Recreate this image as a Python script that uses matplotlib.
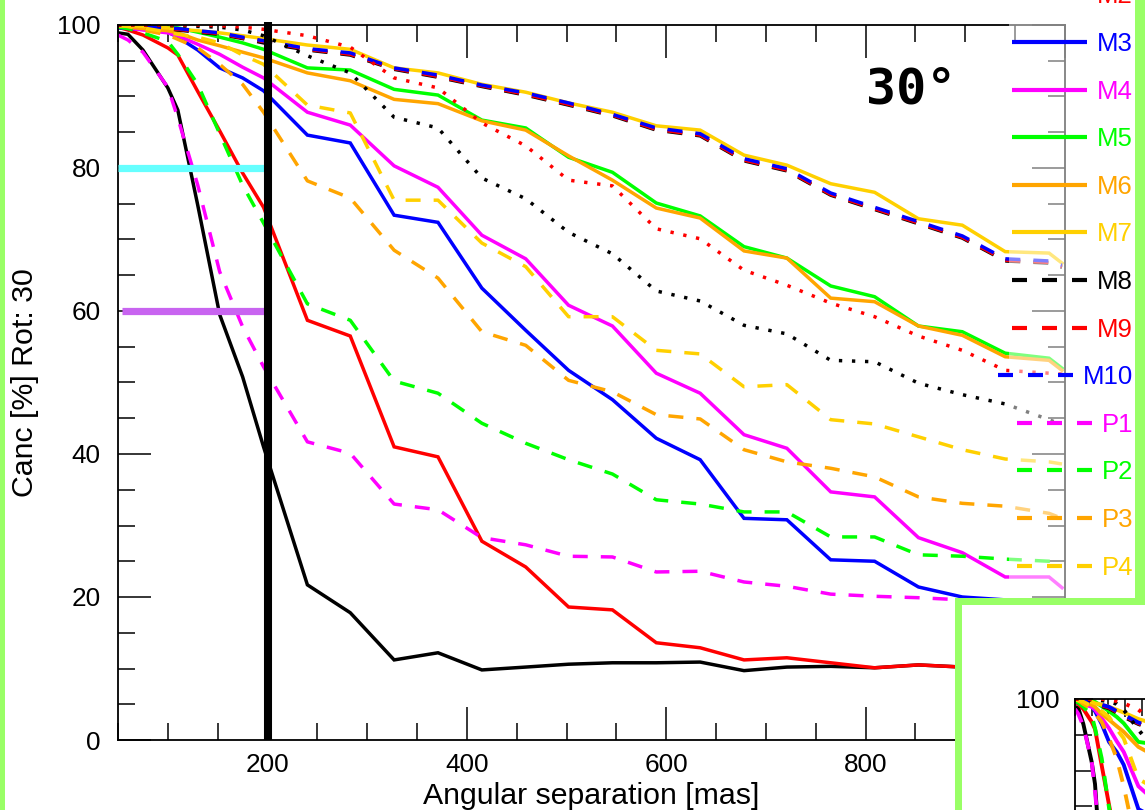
import matplotlib
matplotlib.use('Agg')
import matplotlib.pyplot as plt
from matplotlib.patches import Rectangle
from matplotlib.ticker import MultipleLocator

plt.rcParams['font.family'] = ['Liberation Sans', 'DejaVu Sans']
plt.rcParams['lines.scale_dashes'] = False

# ---------------- data ----------------
sep_mas = [50, 60, 75, 100, 110, 130, 152, 175, 196, 240, 283, 327, 371, 415, 459,
           502, 546, 590, 634, 678, 721, 765, 809, 853, 897, 940, 984, 997]

M1 = [98.9, 98.7, 96.5, 91.2, 88.1, 74.8, 59.5, 50.8, 41.0, 21.7, 17.8, 11.2, 12.2, 9.8,
      10.2, 10.6, 10.8, 10.8, 10.9, 9.7, 10.2, 10.3, 10.1, 10.5, 10.2, 10.2, 10.2, 10.2]
M2 = [99.7, 99.3, 98.6, 96.8, 95.8, 90.7, 85.2, 79.3, 74.5, 58.7, 56.5, 41.0, 39.6, 27.8,
      24.2, 18.6, 18.2, 13.6, 12.9, 11.2, 11.5, 10.8, 10.1, 10.5, 10.2, 10.3, 10.4, 10.3]
M3 = [99.6, 99.5, 99.4, 99.0, 98.3, 96.5, 94.0, 92.6, 90.8, 84.6, 83.5, 73.4, 72.4, 63.2,
      57.3, 51.7, 47.6, 42.2, 39.2, 31.0, 30.8, 25.2, 25.0, 21.4, 20.0, 19.6, 19.3, 19.0]
M4 = [99.7, 99.6, 99.3, 98.9, 98.5, 97.3, 95.9, 94.1, 92.6, 87.8, 86.0, 80.3, 77.3, 70.6,
      67.3, 60.8, 57.9, 51.3, 48.5, 42.7, 40.8, 34.7, 34.0, 28.3, 26.2, 22.8, 22.8, 21.3]
M5 = [99.8, 99.8, 99.8, 99.7, 99.6, 99.0, 98.3, 97.5, 96.6, 94.0, 93.7, 91.0, 90.2, 86.7,
      85.6, 81.5, 79.4, 75.1, 73.3, 69.0, 67.4, 63.5, 62.0, 57.9, 57.1, 54.1, 53.4, 52.0]
M6 = [99.8, 99.7, 99.5, 99.2, 98.9, 97.9, 97.1, 96.2, 95.4, 93.3, 92.2, 89.6, 89.0, 86.6,
      85.3, 81.7, 78.3, 74.4, 73.0, 68.4, 67.4, 61.8, 61.3, 57.9, 56.6, 53.6, 53.1, 51.7]
M7 = [99.9, 99.9, 99.8, 99.6, 99.4, 99.2, 98.9, 98.5, 98.1, 97.2, 96.6, 94.0, 93.3, 91.7,
      90.6, 89.1, 87.8, 85.9, 85.3, 81.8, 80.4, 77.8, 76.6, 72.9, 72.0, 68.3, 68.1, 66.7]
M8 = [99.8, 99.8, 99.7, 99.5, 99.3, 99.0, 98.7, 98.1, 97.5, 96.5, 95.8, 93.8, 92.7, 91.4,
      90.2, 88.8, 87.3, 85.3, 84.5, 81.0, 79.6, 76.2, 74.2, 72.2, 70.2, 67.0, 66.7, 66.1]
M9 = [99.9, 99.8, 99.7, 99.5, 99.4, 99.1, 98.8, 98.2, 97.7, 96.6, 95.9, 93.9, 92.8, 91.5,
      90.3, 88.9, 87.4, 85.4, 84.6, 81.1, 79.7, 76.3, 74.3, 72.3, 70.3, 67.1, 66.8, 66.2]
M10 = [99.9, 99.9, 99.8, 99.6, 99.5, 99.2, 98.9, 98.3, 97.8, 96.7, 96.1, 94.0, 93.0, 91.6,
       90.5, 89.1, 87.5, 85.6, 84.8, 81.3, 79.9, 76.5, 74.5, 72.5, 70.5, 67.3, 67.0, 66.4]
P1 = [98.6, 97.9, 96.2, 91.3, 87.0, 77.6, 65.5, 57.8, 52.2, 41.7, 40.1, 33.0, 32.2, 28.3,
      27.3, 25.7, 25.6, 23.5, 23.6, 22.1, 21.5, 20.4, 20.1, 19.9, 19.6, 19.3, 19.0, 18.8]
P2 = [99.7, 99.5, 98.9, 97.7, 95.9, 91.7, 84.8, 77.6, 72.3, 61.0, 58.7, 50.2, 48.5, 44.3,
      41.5, 39.2, 37.2, 33.6, 33.0, 31.9, 31.9, 28.4, 28.4, 25.9, 25.7, 25.3, 25.0, 25.0]
P3 = [99.9, 99.8, 99.3, 98.6, 98.0, 96.8, 94.5, 91.7, 87.8, 78.2, 75.8, 68.5, 64.6, 57.1,
      55.2, 50.3, 48.7, 45.5, 44.9, 40.6, 38.9, 38.0, 36.8, 34.0, 33.1, 32.7, 31.7, 31.0]
P4 = [99.9, 99.8, 99.6, 99.0, 98.7, 98.3, 97.5, 95.8, 94.5, 88.8, 87.7, 75.5, 75.5, 69.5,
      66.2, 59.2, 59.2, 54.5, 54.0, 49.4, 49.7, 44.8, 44.2, 42.4, 40.6, 39.3, 38.9, 38.6]
P5 = [100.0, 100.0, 100.0, 99.9, 99.9, 99.8, 99.7, 99.3, 98.5, 95.7, 93.3, 87.1, 85.6, 78.6,
      75.7, 71.0, 68.0, 62.8, 61.4, 58.0, 56.8, 53.1, 52.9, 49.9, 48.3, 47.0, 44.8, 44.1]
P6 = [100.0, 100.0, 100.0, 100.0, 100.0, 100.0, 99.9, 99.7, 99.4, 98.5, 96.9, 92.6, 91.2,
      86.3, 83.1, 78.3, 77.5, 71.5, 70.1, 65.7, 63.6, 61.1, 59.2, 56.5, 54.5, 51.7, 51.3, 51.2]

series_values = [M1, M2, M3, M4, M5, M6, M7, M8, M9, M10, P1, P2, P3, P4, P5, P6]
series_labels = ['M1', 'M2', 'M3', 'M4', 'M5', 'M6', 'M7', 'M8', 'M9', 'M10',
                 'P1', 'P2', 'P3', 'P4', 'P5', 'P6']

title_text = '30°'
xlabel_text = 'Angular separation [mas]'
ylabel_text = 'Canc [%] Rot: 30'
x_major_ticks = [200, 400, 600, 800, 1000]
y_major_ticks = [0, 20, 40, 60, 80, 100]
sep_limit = 200            # vertical reference line [mas]
level_high = 80            # cyan reference level [%]
level_low = 60             # purple reference level [%]
level_high_range = [50, 196]
level_low_range = [54, 199]

# ---------------- styles ----------------
BLACK, RED, BLUE, MAG, GRN, ORG, GOLD = ('#000000', '#ff0000', '#0000ff', '#ff00ff',
                                         '#00ff00', '#ffa500', '#ffd000')
series_colors = [BLACK, RED, BLUE, MAG, GRN, ORG, GOLD, BLACK, RED, BLUE,
                 MAG, GRN, ORG, GOLD, BLACK, RED]
DASH = (10.8, 9.4)
DOT = (2.4, 7.0)
SOLID = None
series_dash = [SOLID] * 7 + [DASH] * 3 + [DASH] * 4 + [DOT] * 2
LW = 2.5
FRAME_GREEN = '#99ff66'
TICK_FS = 18.8
LABEL_FS = 21.8

W, H = 1145, 810
fig = plt.figure(figsize=(W / 100, H / 100), dpi=100)
fig.patch.set_facecolor('white')


def px_axes(left, top, right, bottom):
    return [left / W, 1 - bottom / H, (right - left) / W, (bottom - top) / H]


def style_axes(ax, major_len, minor_len, xpad, ypad, lsize):
    ax.set_xlim(50, 1000)
    ax.set_ylim(0, 100)
    ax.xaxis.set_major_locator(plt.FixedLocator(x_major_ticks))
    ax.xaxis.set_minor_locator(MultipleLocator(50))
    ax.yaxis.set_major_locator(plt.FixedLocator(y_major_ticks))
    ax.yaxis.set_minor_locator(MultipleLocator(5))
    ax.tick_params(which='both', direction='in', top=True, right=True, width=1.1,
                   labelsize=lsize, colors='black')
    ax.tick_params(which='major', length=major_len)
    ax.tick_params(which='minor', length=minor_len)
    ax.tick_params(axis='x', which='major', pad=xpad)
    ax.tick_params(axis='y', which='major', pad=ypad)
    for sp in ax.spines.values():
        sp.set_linewidth(1.3)
        sp.set_color('black')


def draw_series(ax, lw):
    for vals, col, dsh in zip(series_values, series_colors, series_dash):
        if dsh is None:
            ax.plot(sep_mas, vals, color=col, lw=lw, solid_joinstyle='miter')
        else:
            ax.plot(sep_mas, vals, color=col, lw=lw, dashes=dsh)


# ---------------- main axes ----------------
ax = fig.add_axes(px_axes(118, 25, 1065, 740), zorder=0)
style_axes(ax, 23.8, 12.2, 9.0, 12.5, TICK_FS)
draw_series(ax, LW)
ax.plot(level_high_range, [level_high, level_high], color='#66ffff', lw=5.2,
        solid_capstyle='butt', zorder=3)
ax.plot(level_low_range, [level_low, level_low], color='#c864f0', lw=5.2,
        solid_capstyle='butt', zorder=3)
ax.plot([sep_limit, sep_limit], [0, 100.4], color='black', lw=5.8,
        solid_capstyle='butt', zorder=4, clip_on=False)
ax.set_xlabel(xlabel_text, fontsize=LABEL_FS)
ax.set_ylabel(ylabel_text, fontsize=LABEL_FS)
ax.xaxis.set_label_coords(0.5, -0.0585)
ax.yaxis.set_label_coords(-0.0834, 0.5)

# ---------------- overlay (legend, window frames) ----------------
ov = fig.add_axes([0, 0, 1, 1], zorder=5)
ov.set_xlim(0, W)
ov.set_ylim(H, 0)
ov.axis('off')
ov.patch.set_alpha(0)

ov.add_patch(Rectangle((1009, 0), 126, 598, facecolor='white', alpha=0.5,
                       edgecolor='none', zorder=1))
ov.text(866, 103, title_text, fontsize=36, fontweight='bold',
        family=['DejaVu Sans Mono'], ha='left', va='baseline', zorder=3)

fig.canvas.draw()
renderer = fig.canvas.get_renderer()
LEG_Y0, LEG_DY = -53.2, 47.6
for i, (lab, col, dsh) in enumerate(zip(series_labels, series_colors, series_dash)):
    yc = LEG_Y0 + i * LEG_DY
    t = ov.text(1133, yc + 9, lab, color=col, fontsize=18.5, ha='right',
                va='baseline', zorder=3)
    bb = t.get_window_extent(renderer)
    x1 = bb.x0 - 10
    kw = dict(color=col, lw=3, zorder=3, solid_capstyle='butt')
    if dsh is DASH:
        kw['dashes'] = (10.8, 10.8)
    elif dsh is DOT:
        kw['dashes'] = DOT
    ov.plot([x1 - 75, x1], [yc, yc], **kw)

ov.add_patch(Rectangle((0, 0), 5, H, facecolor=FRAME_GREEN, edgecolor='none', zorder=4))
ov.add_patch(Rectangle((1135, 0), 10, 605, facecolor=FRAME_GREEN, edgecolor='none', zorder=4))
ov.add_patch(Rectangle((955, 598), 190, 212, facecolor=FRAME_GREEN, edgecolor='none', zorder=4))
ov.add_patch(Rectangle((962, 605), 183, 205, facecolor='white', edgecolor='none', zorder=4.5))

# ---------------- second window: partially visible thumbnail ----------------
ins = fig.add_axes(px_axes(1075, 699, 1392, 1414), zorder=10)
style_axes(ins, 13, 12, 6, 10.8, TICK_FS)
draw_series(ins, 2.8)

fig.savefig('out.png', dpi=100)
